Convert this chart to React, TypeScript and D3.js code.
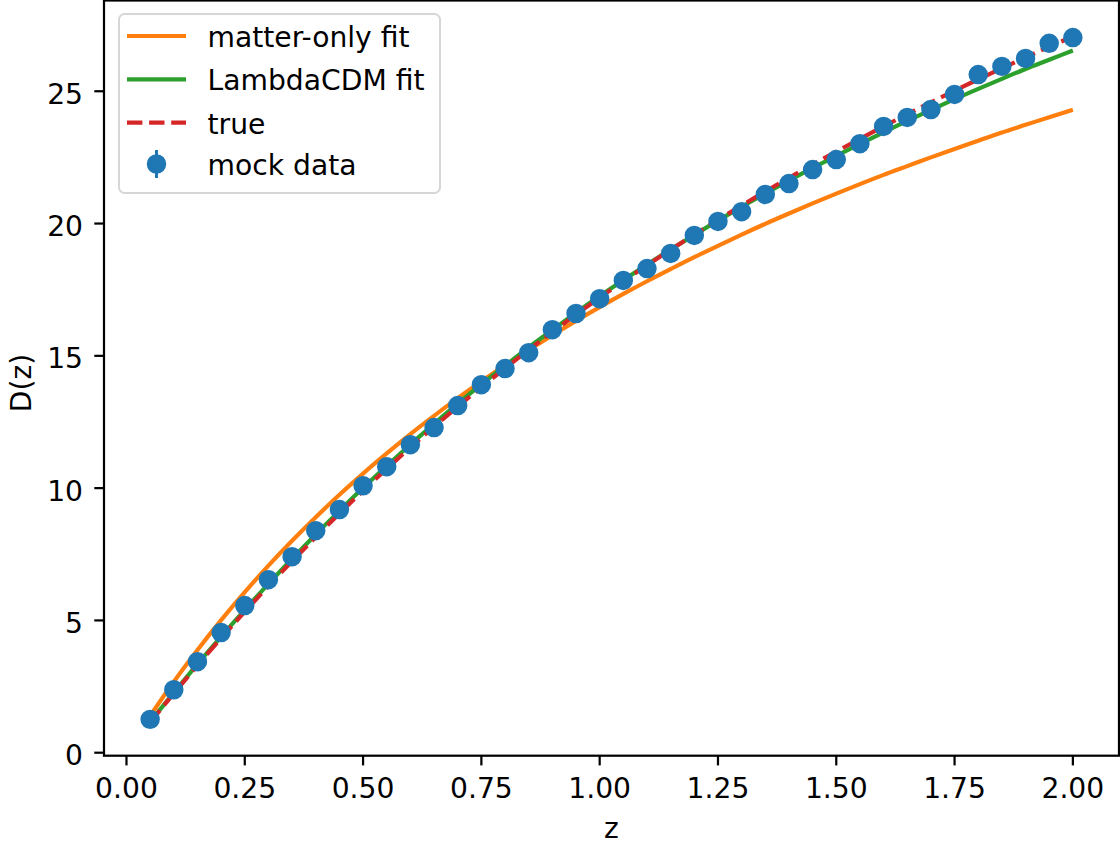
import React from "react";
import * as d3 from "d3";

const zValues = [0.05, 0.1, 0.15, 0.2, 0.25, 0.3, 0.35, 0.4, 0.45, 0.5, 0.55, 0.6, 0.65, 0.7, 0.75, 0.8, 0.85, 0.9, 0.95, 1.0, 1.05, 1.1, 1.15, 1.2, 1.25, 1.3, 1.35, 1.4, 1.45, 1.5, 1.55, 1.6, 1.65, 1.7, 1.75, 1.8, 1.85, 1.9, 1.95, 2.0];
const mockData = [1.26, 2.38, 3.44, 4.54, 5.56, 6.54, 7.41, 8.39, 9.19, 10.09, 10.81, 11.64, 12.29, 13.12, 13.91, 14.52, 15.12, 15.99, 16.6, 17.16, 17.85, 18.3, 18.87, 19.55, 20.08, 20.45, 21.1, 21.51, 22.04, 22.42, 23.02, 23.67, 24.01, 24.31, 24.88, 25.63, 25.94, 26.24, 26.81, 27.03];
const mockErr = [0.3, 0.3, 0.3, 0.3, 0.3, 0.3, 0.3, 0.3, 0.3, 0.3, 0.3, 0.3, 0.3, 0.3, 0.3, 0.3, 0.3, 0.3, 0.3, 0.3, 0.3, 0.3, 0.3, 0.3, 0.3, 0.3, 0.3, 0.3, 0.3, 0.3, 0.3, 0.3, 0.3, 0.3, 0.3, 0.3, 0.3, 0.3, 0.3, 0.3];
const matterOnly = [1.39, 2.68, 3.88, 5.01, 6.07, 7.07, 8.01, 8.9, 9.75, 10.55, 11.31, 12.04, 12.73, 13.4, 14.03, 14.64, 15.22, 15.78, 16.32, 16.84, 17.34, 17.82, 18.28, 18.73, 19.16, 19.58, 19.99, 20.38, 20.76, 21.13, 21.49, 21.84, 22.17, 22.5, 22.82, 23.13, 23.44, 23.73, 24.02, 24.3];
const lambdaFit = [1.17, 2.27, 3.35, 4.39, 5.4, 6.38, 7.33, 8.25, 9.14, 10.01, 10.84, 11.65, 12.43, 13.19, 13.92, 14.63, 15.32, 15.98, 16.63, 17.26, 17.86, 18.45, 19.02, 19.57, 20.11, 20.63, 21.13, 21.63, 22.1, 22.56, 23.01, 23.45, 23.88, 24.29, 24.7, 25.09, 25.47, 25.84, 26.19, 26.54];
const trueCurve = [1.15, 2.24, 3.3, 4.33, 5.33, 6.3, 7.24, 8.15, 9.04, 9.9, 10.73, 11.54, 12.32, 13.08, 13.82, 14.53, 15.23, 15.9, 16.56, 17.2, 17.82, 18.42, 19.01, 19.58, 20.14, 20.68, 21.21, 21.73, 22.23, 22.72, 23.2, 23.67, 24.13, 24.58, 25.02, 25.45, 25.87, 26.28, 26.68, 27.07];
const xTicks = [0, 0.25, 0.5, 0.75, 1.0, 1.25, 1.5, 1.75, 2.0];
const xTickLabels = ["0.00", "0.25", "0.50", "0.75", "1.00", "1.25", "1.50", "1.75", "2.00"];
const yTicks = [0, 5, 10, 15, 20, 25];
const yTickLabels = ["0", "5", "10", "15", "20", "25"];
const legendLabels = ["matter-only fit", "LambdaCDM fit", "true", "mock data"];

const W = 1120;
const H = 845;
const left = 104;
const right = 1119;
const top = 0.5;
const bottom = 755.7;
const FONT = "DejaVu Sans, sans-serif";
const FS = 28.2;
const LW = 4.17;
const C_ORANGE = "#ff7f0e";
const C_GREEN = "#2ca02c";
const C_RED = "#d62728";
const C_BLUE = "#1f77b4";

export default function App() {
  const x = d3.scaleLinear().domain([-0.0475, 2.0975]).range([left, right]);
  const y = d3.scaleLinear().domain([-0.113, 28.43]).range([bottom, top]);
  const mk = (vals: number[]) =>
    d3
      .line<number>()
      .x((_, i) => x(zValues[i]))
      .y((v) => y(v))
      .curve(d3.curveMonotoneX)(vals) as string;

  const legRows = [36, 79.3, 122.7, 164];
  return (
    <svg width={W} height={H} style={{ position: "absolute", left: 0, top: 0, background: "#fff" }} fontFamily={FONT}>
      <rect x={0} y={0} width={W} height={H} fill="#fff" />
      <path d={mk(matterOnly)} fill="none" stroke={C_ORANGE} strokeWidth={LW} />
      <path d={mk(lambdaFit)} fill="none" stroke={C_GREEN} strokeWidth={LW} />
      <path d={mk(trueCurve)} fill="none" stroke={C_RED} strokeWidth={LW} strokeDasharray="15.4,6.7" />
      {zValues.map((z, i) => (
        <line key={"e" + i} x1={x(z)} x2={x(z)} y1={y(mockData[i] - mockErr[i])} y2={y(mockData[i] + mockErr[i])} stroke={C_BLUE} strokeWidth={LW} />
      ))}
      {zValues.map((z, i) => (
        <circle key={"p" + i} cx={x(z)} cy={y(mockData[i])} r={8.35} fill={C_BLUE} stroke={C_BLUE} strokeWidth={2.78} />
      ))}
      <rect x={left} y={top} width={right - left} height={bottom - top} fill="none" stroke="#000" strokeWidth={2.22} />
      {xTicks.map((t, i) => (
        <g key={"xt" + i}>
          <line x1={x(t)} x2={x(t)} y1={bottom} y2={bottom + 9.7} stroke="#000" strokeWidth={2.22} />
          <text x={x(t)} y={798} textAnchor="middle" fontSize={FS} fill="#000">
            {xTickLabels[i]}
          </text>
        </g>
      ))}
      {yTicks.map((t, i) => (
        <g key={"yt" + i}>
          <line x1={left} x2={left - 9.7} y1={y(t)} y2={y(t)} stroke="#000" strokeWidth={2.22} />
          <text x={83} y={y(t) + 12.5} textAnchor="end" fontSize={FS} fill="#000">
            {yTickLabels[i]}
          </text>
        </g>
      ))}
      <text x={(left + right) / 2} y={838} textAnchor="middle" fontSize={FS} fill="#000">
        z
      </text>
      <text transform={`translate(31,383) rotate(-90)`} textAnchor="middle" fontSize={FS} fill="#000">
        D(z)
      </text>
      <rect x={119} y={14} width={321} height={179} rx={5.6} ry={5.6} fill="#fff" fillOpacity={0.8} stroke="#d6d6d6" strokeWidth={2} />
      <line x1={127} x2={186} y1={legRows[0]} y2={legRows[0]} stroke={C_ORANGE} strokeWidth={LW} />
      <line x1={127} x2={186} y1={legRows[1]} y2={legRows[1]} stroke={C_GREEN} strokeWidth={LW} />
      <line x1={127} x2={186} y1={legRows[2]} y2={legRows[2]} stroke={C_RED} strokeWidth={LW} strokeDasharray="15.4,6.7" />
      <line x1={156.5} x2={156.5} y1={legRows[3] - 14} y2={legRows[3] + 14} stroke={C_BLUE} strokeWidth={3} />
      <circle cx={156.5} cy={legRows[3]} r={8.35} fill={C_BLUE} stroke={C_BLUE} strokeWidth={2.78} />
      {legendLabels.map((lab, i) => (
        <text key={"l" + i} x={207.5} y={legRows[i] + 11} fontSize={FS} fill="#000">
          {lab}
        </text>
      ))}
    </svg>
  );
}
